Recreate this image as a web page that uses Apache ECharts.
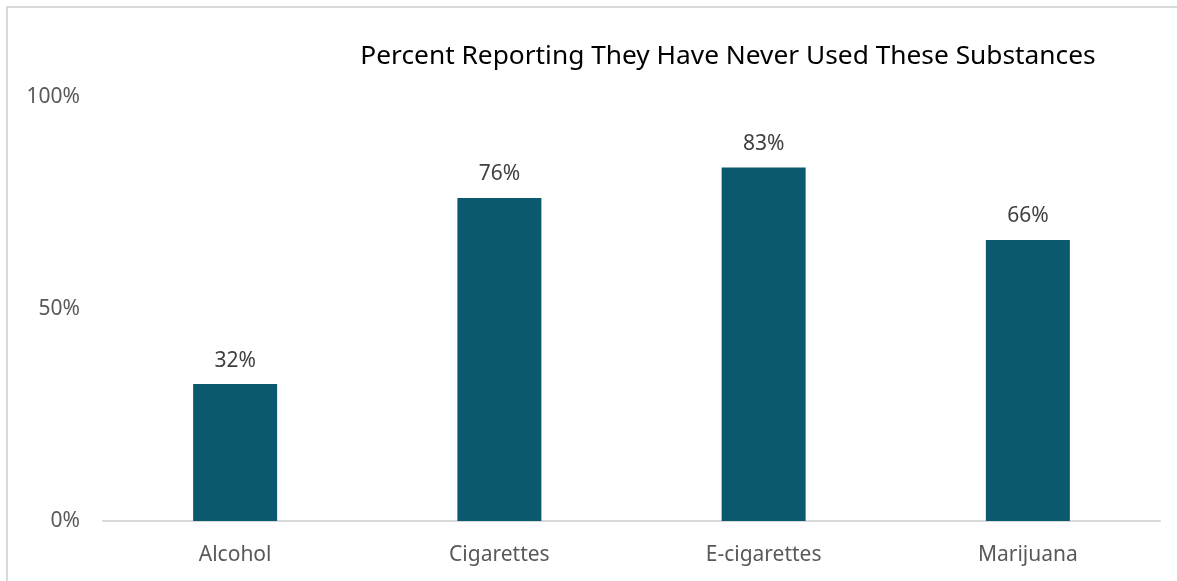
<!DOCTYPE html>
<html>
<head>
<meta charset="utf-8">
<script src="https://cdn.jsdelivr.net/npm/echarts@6/dist/echarts.min.js"></script>
<style>
html,body{margin:0;padding:0;background:#fff;overflow:hidden;}
#chart{position:absolute;left:0;top:0;width:1177px;height:581px;}
</style>
</head>
<body>
<div id="chart"></div>
<script>
const titleText = 'Percent Reporting They Have Never Used These Substances';
const categories = ['Alcohol', 'Cigarettes', 'E-cigarettes', 'Marijuana'];
const neverUsed = [32.3, 76.2, 83.4, 66.3];
const yTicks = [0, 50, 100];

const chart = echarts.init(document.getElementById('chart'), null, {renderer: 'canvas'});
chart.setOption({
  animation: false,
  backgroundColor: '#fff',
  graphic: [
    {type: 'line', silent: true, shape: {x1: 6, y1: 7, x2: 1177, y2: 7}, style: {stroke: '#d9d9d9', lineWidth: 2}},
    {type: 'line', silent: true, shape: {x1: 7, y1: 6, x2: 7, y2: 581}, style: {stroke: '#d9d9d9', lineWidth: 2}}
  ],
  title: {
    text: titleText,
    left: 723, top: 39,
    textAlign: 'center',
    textStyle: {fontFamily: 'Noto Sans', fontSize: 26.3, fontWeight: 'normal', color: '#000'}
  },
  grid: {left: 103, right: 17, top: 97, bottom: 60, containLabel: false},
  xAxis: {
    type: 'category',
    data: categories,
    axisLine: {lineStyle: {color: '#d9d9d9', width: 2}},
    axisTick: {show: false},
    axisLabel: {color: '#595959', fontFamily: 'Noto Sans', fontSize: 21, margin: 24}
  },
  yAxis: {
    type: 'value',
    min: yTicks[0], max: yTicks[yTicks.length - 1], interval: yTicks[1] - yTicks[0],
    axisLine: {show: false},
    axisTick: {show: false},
    splitLine: {show: false},
    axisLabel: {color: '#595959', fontFamily: 'Noto Sans', fontSize: 21, margin: 23, formatter: '{value}%'}
  },
  series: [{
    type: 'bar',
    data: neverUsed,
    barWidth: 84,
    itemStyle: {color: '#0b596f'},
    label: {
      show: true, position: 'top', distance: 13,
      color: '#404040', fontFamily: 'Noto Sans', fontSize: 21,
      formatter: p => Math.round(p.value) + '%'
    }
  }]
});
</script>
</body>
</html>
